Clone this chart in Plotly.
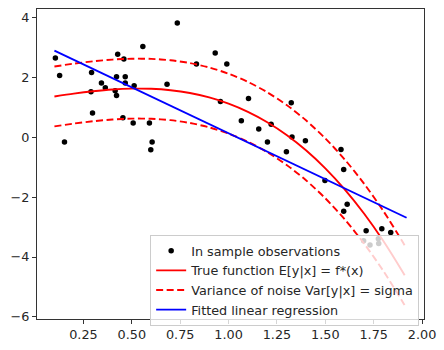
import plotly.graph_objects as go

# Observations
obs_x = [0.105, 0.127, 0.152, 0.289, 0.292, 0.297, 0.343, 0.363, 0.414, 0.421,
         0.421, 0.427, 0.454, 0.459, 0.466, 0.466, 0.507, 0.512, 0.557, 0.591,
         0.598, 0.605, 0.682, 0.735, 0.834, 0.931, 0.958, 0.991, 1.066, 1.103,
         1.156, 1.201, 1.220, 1.299, 1.324, 1.328, 1.397, 1.498, 1.581, 1.595,
         1.595, 1.613, 1.698, 1.711, 1.731, 1.774, 1.776, 1.792, 1.838]
obs_y = [2.64, 2.06, -0.16, 1.52, 2.16, 0.81, 1.81, 1.65, 1.55, 2.02,
         1.39, 2.77, 0.65, 2.61, 2.02, 1.81, 0.47, 1.72, 3.03, 0.47,
         -0.42, -0.16, 1.77, 3.81, 2.44, 2.81, 1.19, 2.44, 0.55, 1.29,
         0.27, -0.16, 0.43, -0.49, 1.15, 0.01, -0.12, -1.45, -0.41, -1.08,
         -2.47, -2.24, -3.46, -3.12, -3.60, -3.39, -3.55, -3.06, -3.18]

# True function and noise band
curve_x = [0.10, 0.20, 0.30, 0.40, 0.50, 0.60, 0.70, 0.80, 0.90, 1.00,
           1.10, 1.20, 1.30, 1.40, 1.50, 1.60, 1.70, 1.80, 1.90, 1.91]
true_y = [1.360, 1.455, 1.533, 1.591, 1.620, 1.615, 1.568, 1.475, 1.327, 1.120,
          0.846, 0.500, 0.074, -0.437, -1.041, -1.742, -2.549, -3.466, -4.501, -4.611]
upper_y = [2.360, 2.455, 2.533, 2.591, 2.620, 2.615, 2.568, 2.475, 2.327, 2.120,
           1.846, 1.500, 1.074, 0.563, -0.041, -0.742, -1.549, -2.466, -3.501, -3.611]
lower_y = [0.360, 0.455, 0.533, 0.591, 0.620, 0.615, 0.568, 0.475, 0.327, 0.120,
           -0.154, -0.500, -0.926, -1.437, -2.041, -2.742, -3.549, -4.466, -5.501, -5.611]

# Fitted linear regression
fit_x = [0.10, 1.92]
fit_y = [2.89, -2.69]

x_ticks = [0.25, 0.50, 0.75, 1.00, 1.25, 1.50, 1.75, 2.00]
x_tick_labels = ["0.25", "0.50", "0.75", "1.00", "1.25", "1.50", "1.75", "2.00"]
y_ticks = [-6, -4, -2, 0, 2, 4]

FONT = "DejaVu Sans"
FS = 12.8

fig = go.Figure()
fig.add_trace(go.Scatter(x=obs_x, y=obs_y, mode="markers", name="In sample observations",
                         marker=dict(color="black", size=5.5), legendgroup="a"))
fig.add_trace(go.Scatter(x=curve_x, y=true_y, mode="lines", name="True function E[y|x] = f*(x)",
                         line=dict(color="#ff0000", width=1.9, shape="spline", smoothing=0.8),
                         legendgroup="b"))
fig.add_trace(go.Scatter(x=curve_x, y=upper_y, mode="lines", name="Variance of noise Var[y|x] = sigma",
                         line=dict(color="#ff0000", width=1.9, dash="7px,3.5px", shape="spline", smoothing=0.8),
                         legendgroup="c"))
fig.add_trace(go.Scatter(x=curve_x, y=lower_y, mode="lines", showlegend=False,
                         line=dict(color="#ff0000", width=1.9, dash="7px,3.5px", shape="spline", smoothing=0.8),
                         legendgroup="c"))
fig.add_trace(go.Scatter(x=fit_x, y=fit_y, mode="lines", name="Fitted linear regression",
                         line=dict(color="#0000ff", width=1.9), legendgroup="d"))

axis_common = dict(showgrid=False, zeroline=False, showline=True, linecolor="#333333",
                   linewidth=1, mirror=True, ticks="outside", ticklen=4, tickwidth=1,
                   tickcolor="#333333", tickfont=dict(family=FONT, size=FS, color="#262626"))

fig.update_layout(
    width=444, height=350,
    margin=dict(l=37, r=14, t=8, b=21),
    paper_bgcolor="white", plot_bgcolor="white",
    font=dict(family=FONT, size=FS, color="#262626"),
    showlegend=True,
    legend=dict(x=0.2924, y=0.2714, xanchor="left", yanchor="top",
                bgcolor="rgba(255,255,255,0.8)", bordercolor="#cccccc", borderwidth=1,
                font=dict(family=FONT, size=FS, color="#262626"),
                tracegroupgap=2, traceorder="normal"),
    xaxis=dict(range=[0.01, 2.01], tickvals=x_ticks, ticktext=x_tick_labels, **axis_common),
    yaxis=dict(range=[-6.07, 4.28], tickvals=y_ticks, **axis_common),
)

fig.write_html("out.html")
